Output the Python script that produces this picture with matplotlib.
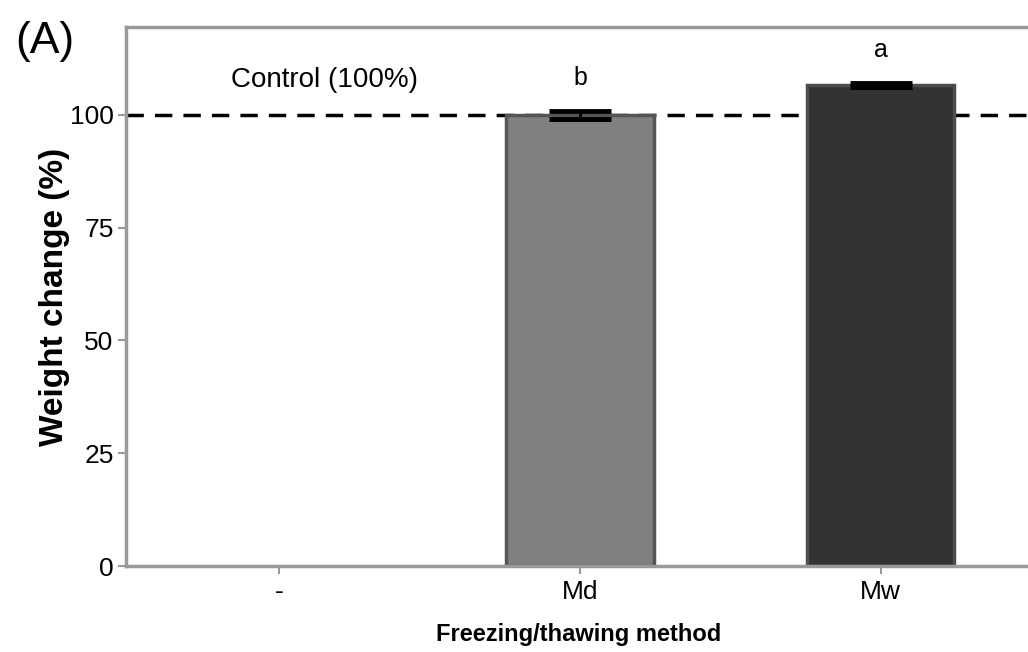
import matplotlib
matplotlib.use("Agg")
import matplotlib.pyplot as plt

categories = ["-", "Md", "Mw"]
values = [0, 100.0, 106.6]
errors = [0, 0.8, 0.4]
bar_colors = ["white", "#808080", "#333333"]
edge_colors = ["white", "#555555", "#4d4d4d"]
letters = ["", "b", "a"]

plt.rcParams["font.family"] = ["Liberation Sans", "DejaVu Sans"]

fig = plt.figure(figsize=(10.28, 6.52), dpi=100)
ax = fig.add_axes([126 / 1028, 1 - 566 / 652, 1 - 126 / 1028 + 0.003, (566 - 27) / 652])

x = list(range(len(categories)))
ax.bar(x[1:], values[1:], width=0.49, color=bar_colors[1:],
       edgecolor=edge_colors[1:], linewidth=2.5, zorder=2)
ax.errorbar(x[1:], values[1:], yerr=errors[1:], fmt="none", ecolor="black",
            elinewidth=2, capsize=22, capthick=3.5, zorder=3)

ax.axhline(100, color="black", ls=(0, (5, 3.2)), lw=2.5, zorder=1)
ax.text(0.15, 107.8, "Control (100%)", ha="center", va="center", fontsize=20)

for xi, v, e, lab in zip(x, values, errors, letters):
    if lab:
        ax.text(xi, v + e + 7.3, lab, ha="center", va="center", fontsize=18)

ax.set_xlim(-0.51, 2.5)
ax.set_ylim(0, 119.5)
ax.set_xticks(x)
ax.set_xticklabels(categories, fontsize=19)
ax.set_yticks([0, 25, 50, 75, 100])
ax.tick_params(axis="y", labelsize=19, length=6, width=1.5, color="#999999", pad=3)
ax.tick_params(axis="x", length=6, width=1.5, color="#999999", pad=4)

for side in ["left", "top", "bottom"]:
    ax.spines[side].set_color("#999999")
    ax.spines[side].set_linewidth(2.5)
ax.spines["right"].set_visible(False)

ax.set_ylabel("Weight change (%)", fontsize=24, fontweight="bold", labelpad=0)
ax.set_xlabel("Freezing/thawing method", fontsize=17, fontweight="bold", labelpad=14)

fig.text(45 / 1028, 1 - 42 / 652, "(A)", fontsize=32, ha="center", va="center")

fig.savefig("out.png", dpi=100)
plt.close(fig)
